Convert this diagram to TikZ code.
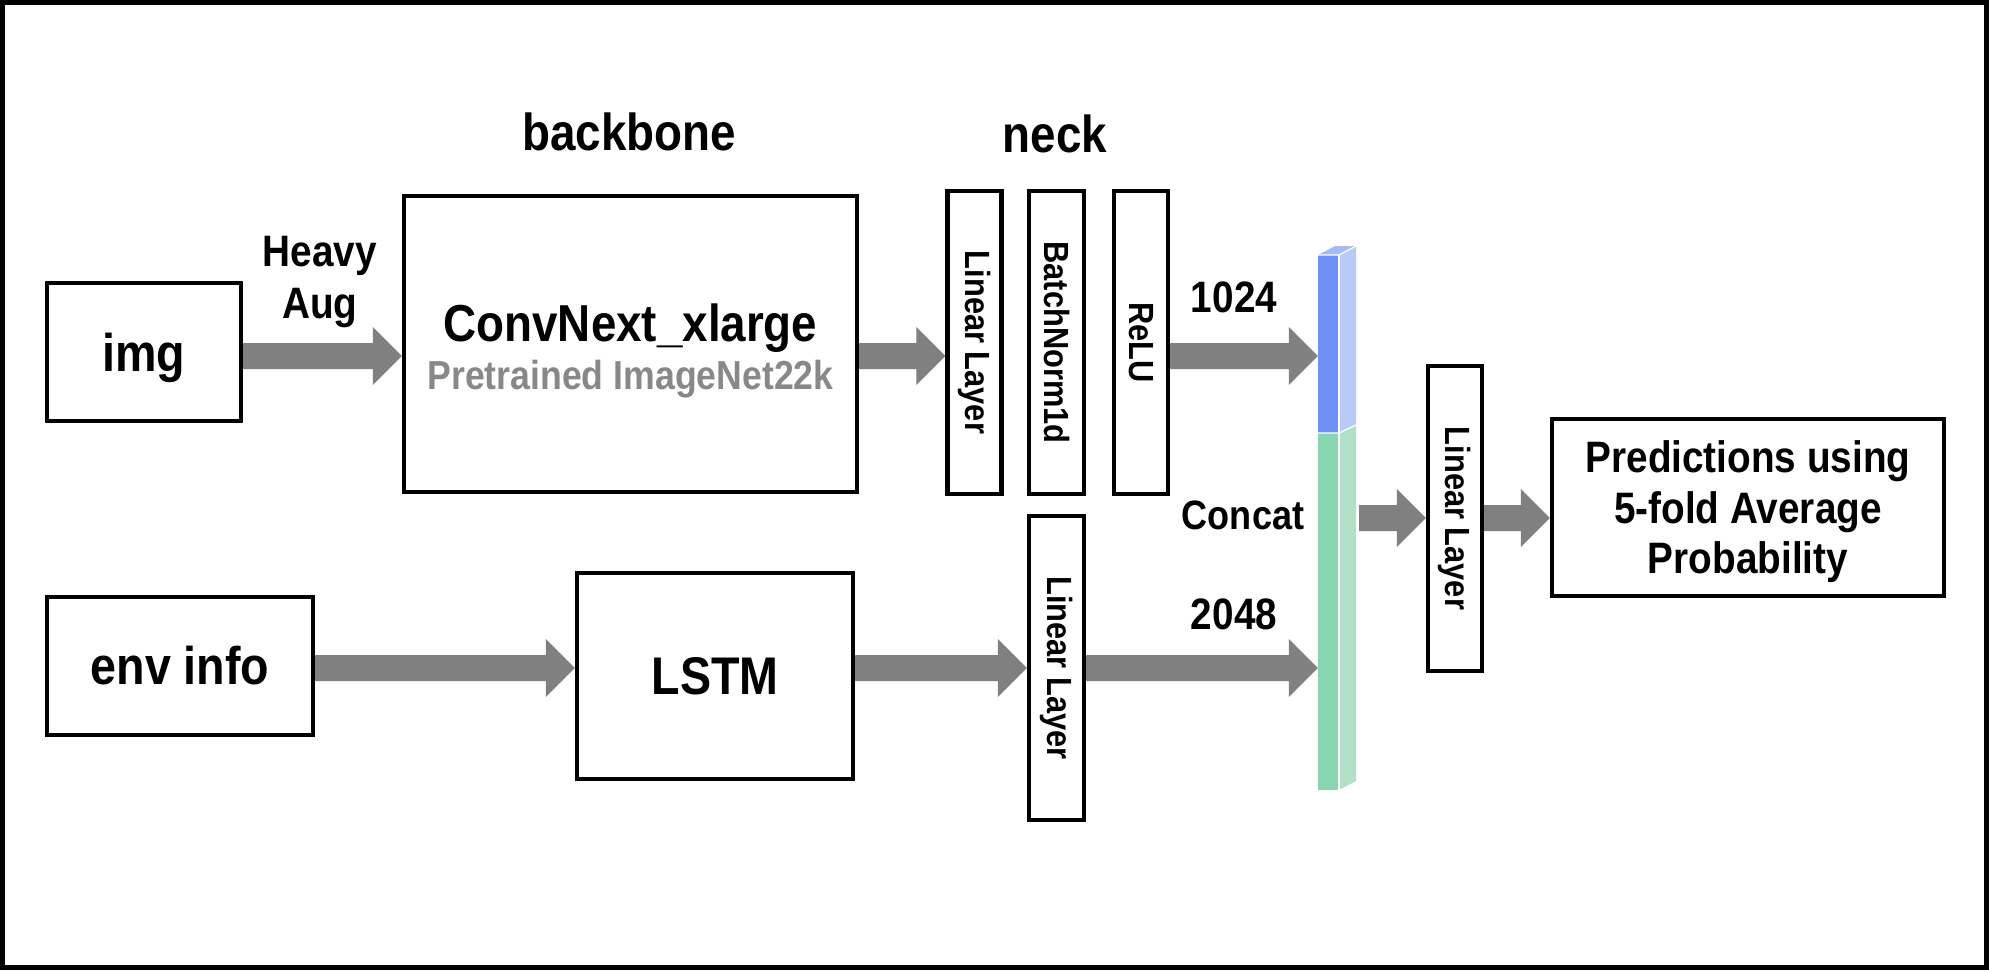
\documentclass[tikz,border=0pt]{standalone}
\usepackage{fontspec}
\setmainfont{Liberation Sans}[FakeStretch=0.88]
\usetikzlibrary{calc,backgrounds}
\definecolor{arrowgray}{RGB}{128,128,128}
\definecolor{subgray}{RGB}{136,136,136}
\definecolor{bluefront}{RGB}{110,143,245}
\definecolor{blueside}{RGB}{186,202,246}
\definecolor{bluetop}{RGB}{165,186,246}
\definecolor{greenfront}{RGB}{136,214,176}
\definecolor{greenside}{RGB}{176,225,199}
\newcommand{\barrow}[2]{\fill[arrowgray] let \p1=(#1), \p2=(#2) in
  (\x1,\y1-13pt) -- (\x2-29pt,\y1-13pt) -- (\x2-29pt,\y1-29pt) -- (\x2,\y1) --
  (\x2-29pt,\y1+29pt) -- (\x2-29pt,\y1+13pt) -- (\x1,\y1+13pt) -- cycle;}
\begin{document}
\begin{tikzpicture}[x=1pt,y=-1pt,
  box/.style={draw=black,line width=4.3pt,align=center,inner sep=0pt,
    font=\bfseries\fontsize{53}{60}\selectfont},
  vbox/.style={draw=black,line width=4.3pt,inner sep=0pt,minimum width=54pt,minimum height=303pt},
  vtext/.style={rotate=-90,font=\bfseries\fontsize{35}{40}\selectfont,inner sep=0pt},
  lbl/.style={font=\bfseries\fontsize{44}{52}\selectfont,align=center,inner sep=0pt},
  head/.style={font=\bfseries\fontsize{52}{60}\selectfont,inner sep=0pt}]
\useasboundingbox (0,0) rectangle (1989,970);
\draw[line width=5pt] (2.5,2.5) rectangle (1986.5,967.5);

\coordinate (r1) at (0,356);
\coordinate (r2) at (0,518);
\coordinate (r3) at (0,668);

% boxes
\node[box,minimum width=194pt,minimum height=138pt] (img) at (144,352) {};
\node[font=\bfseries\fontsize{53}{60}\selectfont,inner sep=0pt] (imgt) at (144,358) {img};
\node[box,minimum width=266pt,minimum height=138pt] (env) at (180,666) {env info};
\node[box,minimum width=453pt,minimum height=296pt] (conv) at (630.5,344) {};
\node[font=\bfseries\fontsize{52}{60}\selectfont,inner sep=0pt] (convt) at (630.5,328) {ConvNext\_xlarge};
\node[font=\bfseries\fontsize{40.5}{48}\selectfont,text=subgray,inner sep=0pt] (convs) at (630.5,379) {Pretrained ImageNet22k};
\node[box,minimum width=276pt,minimum height=206pt] (lstm) at (715,676) {LSTM};

\node[vbox] (lin1) at (974.5,342.5) {};
\node[vtext] at (lin1.center) {Linear Layer};
\node[vbox,minimum width=55pt] (bn) at (1056.5,342.5) {};
\node[vtext] at (bn.center) {BatchNorm1d};
\node[vbox] (relu) at (1141,342.5) {};
\node[vtext] at (relu.center) {ReLU};
\node[vbox,minimum width=55pt,minimum height=304pt] (lin2) at (1056.5,668) {};
\node[vtext] at (lin2.center) {Linear Layer};
\node[vbox,minimum height=305pt] (lin3) at (1455,518.5) {};
\node[vtext] at (lin3.center) {Linear Layer};
\node[box,minimum width=392pt,minimum height=177pt] (pred) at (1748,507.5) {};
\node[font=\bfseries\fontsize{44}{50.5}\selectfont,align=center,inner sep=0pt] (predt) at (1748,512)
  {Predictions using\\5-fold Average\\Probability};

% concat bar
\node[minimum width=20pt,minimum height=535pt,inner sep=0pt] (bar) at (1328,522.5) {};
\fill[bluefront] (1318,255) rectangle (1339,433);
\fill[greenfront] (1318,433) rectangle (1339,790);
\fill[blueside] (1339,255) -- (1356,246) -- (1356,425) -- (1339,433) -- cycle;
\fill[greenside] (1339,433) -- (1356,425) -- (1356,781) -- (1339,790) -- cycle;
\fill[bluetop] (1318,255) -- (1339,255) -- (1356,246) -- (1335,246) -- cycle;
\draw[white,line width=1.2pt] (1339,255) -- (1339,790);
\draw[white,line width=1.2pt] (1318,433) -- (1339,433) -- (1356,425);
\draw[white,line width=1.2pt] (1318,255) -- (1339,255) -- (1356,246);
\coordinate (barout) at (1359,518);

% labels
\node[head] (lbb) at (629,132) {backbone};
\node[head] (lneck) at (1055,134) {neck};
\node[lbl] (laug) at (320,282) {Heavy\\Aug};
\node[lbl] (n1024) at (1234,297) {1024};
\node[lbl,font=\bfseries\fontsize{41}{50}\selectfont] (lconcat) at (1243,515) {Concat};
\node[lbl] (n2048) at (1234,614) {2048};

% arrows
\begin{pgfonlayer}{background}
\barrow{img.east |- r1}{conv.west |- r1}
\barrow{conv.east |- r1}{lin1.west |- r1}
\barrow{relu.east |- r1}{bar.west |- r1}
\barrow{env.east |- r3}{lstm.west |- r3}
\barrow{lstm.east |- r3}{lin2.west |- r3}
\barrow{lin2.east |- r3}{bar.west |- r3}
\barrow{barout}{lin3.west |- r2}
\barrow{lin3.east |- r2}{pred.west |- r2}
\end{pgfonlayer}
\end{tikzpicture}
\end{document}
